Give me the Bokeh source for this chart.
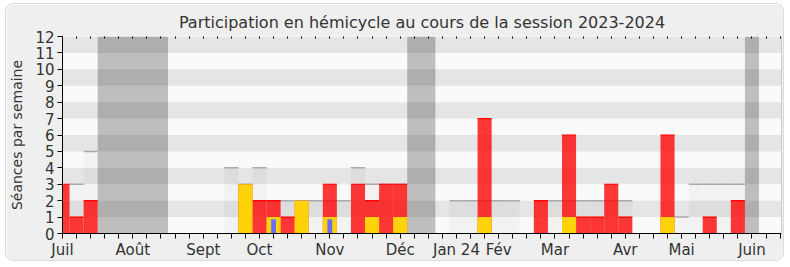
from bokeh.plotting import figure
from bokeh.models import Range1d, FixedTicker, LinearAxis
from bokeh.embed import file_html
from bokeh.resources import INLINE

# ---- data (week index 0 = first week of July 2023) ----
weeks = list(range(51))
presence =      [3,1,2,0,0,0,0,0,0,0, 0,0,0,3,2,2,1,2,0,3, 0,3,2,3,3,0,0,0,0,0, 7,0,0,0,2,0,6,1,1,3, 1,0,0,6,0,0,1,0,2,0, 0]
interventions = [0,0,0,0,0,0,0,0,0,0, 0,0,0,3,0,1,0,2,0,1, 0,0,1,0,1,0,0,0,0,0, 1,0,0,0,0,0,1,0,0,0, 0,0,0,1,0,0,0,0,0,0, 0]
questions =     [0,0,0,0,0,0,0,0,0,0, 0,0,0,0,0,1,0,0,0,1, 0,0,0,0,0,0,0,0,0,0, 0,0,0,0,0,0,0,0,0,0, 0,0,0,0,0,0,0,0,0,0, 0]
median =        [0,3,5,0,0,0,0,0,0,0, 0,0,4,3,4,2,2,2,2,2, 2,4,3,3,3,0,0,0,2,2, 2,2,2,0,0,2,2,2,2,2, 2,0,0,0,1,3,3,3,3,0, 0]
vacation_starts = [3, 25, 49]
vacation_ends = [7, 26, 49]
month_ticks = [0, 5, 10, 14, 19, 24, 28, 31, 35, 40, 44, 49]
month_labels = ["Juil", "Août", "Sept", "Oct", "Nov", "Déc", "Jan 24", "Fév", "Mar", "Avr", "Mai", "Juin"]
title = "Participation en hémicycle au cours de la session 2023-2024"
ylabel = "Séances par semaine"

FONT = "DejaVu Sans"
TXT = "#333333"

p = figure(width=779, height=258, output_backend="svg", toolbar_location=None,
           x_range=Range1d(0, 51.1), y_range=Range1d(0, 12),
           min_border_left=55, min_border_right=4, min_border_top=32, min_border_bottom=29,
           title=title,
           styles={"margin": "3px 5px", "border": "1px solid #dcdcdc",
                   "border-radius": "8px", "overflow": "hidden"})
p.background_fill_color = "#fafafa"
p.border_fill_color = "#efefef"
p.outline_line_color = None
p.grid.visible = False

p.title.align = "center"
p.title.text_font = FONT
p.title.text_font_size = "16px"
p.title.text_font_style = "normal"
p.title.text_color = TXT
p.title.offset = 8

# horizontal background bands
band_b = [i for i in range(12) if i % 2 == 1]
p.quad(left=-1, right=53, bottom=band_b, top=[b + 1 for b in band_b],
       fill_color="#e5e5e5", line_color=None)

# vacations
p.quad(left=[s - 0.5 for s in vacation_starts], right=[e + 0.5 for e in vacation_ends],
       bottom=0, top=12, fill_color="black", fill_alpha=0.24, line_color=None)

# median boxes
mi = [i for i, v in enumerate(median) if v > 0]
p.quad(left=[weeks[i] - 0.5 for i in mi], right=[weeks[i] + 0.5 for i in mi], bottom=0,
       top=[median[i] for i in mi], fill_color="black", fill_alpha=0.03, line_color=None)
p.segment(x0=[weeks[i] - 0.5 for i in mi], x1=[weeks[i] + 0.5 for i in mi],
          y0=[median[i] for i in mi], y1=[median[i] for i in mi],
          line_color="#aaaaaa", line_width=1.5)

# presence
pi = [i for i, v in enumerate(presence) if v > 0]
p.quad(left=[weeks[i] - 0.5 for i in pi], right=[weeks[i] + 0.5 for i in pi], bottom=0,
       top=[presence[i] for i in pi], fill_color="#ff0000", fill_alpha=0.78, line_color=None)
pe = [i for i in pi if presence[i] > interventions[i]]
p.segment(x0=[weeks[i] - 0.5 for i in pe], x1=[weeks[i] + 0.5 for i in pe],
          y0=[presence[i] for i in pe], y1=[presence[i] for i in pe],
          line_color="#ff0000", line_width=1.2)
# interventions
ii = [i for i, v in enumerate(interventions) if v > 0]
p.quad(left=[weeks[i] - 0.5 for i in ii], right=[weeks[i] + 0.5 for i in ii], bottom=0,
       top=[interventions[i] for i in ii], fill_color="#ffd20a", line_color=None)
# questions
qi = [i for i, v in enumerate(questions) if v > 0]
p.quad(left=[weeks[i] - 0.17 for i in qi], right=[weeks[i] + 0.17 for i in qi], bottom=0,
       top=[questions[i] * 0.87 for i in qi], fill_color="#6b6bff", line_color=None)

# axes
xa = p.xaxis[0]
xa.ticker = FixedTicker(ticks=list(range(0, 52)), minor_ticks=[])
xa.major_label_overrides = {i: "" for i in range(52)} | {t: l for t, l in zip(month_ticks, month_labels)}
ya = p.yaxis[0]
ya.ticker = FixedTicker(ticks=list(range(0, 13)), minor_ticks=[])
ya.axis_label = ylabel
for ax in (xa, ya):
    ax.axis_line_color = "black"
    ax.major_tick_line_color = "black"
    ax.major_tick_out = 5
    ax.major_tick_in = 0
    ax.minor_tick_line_color = None
    ax.major_label_text_font = FONT
    ax.major_label_text_font_size = "15px"
    ax.major_label_text_color = TXT
ya.axis_label_text_font = FONT
ya.axis_label_text_font_size = "14px"
ya.axis_label_text_font_style = "normal"
ya.axis_label_text_color = TXT
ya.axis_label_standoff = 7
ya.major_label_standoff = 3
xa.major_label_standoff = 2

top = LinearAxis(ticker=FixedTicker(ticks=list(range(0, 52)), minor_ticks=[]),
                 axis_line_color=None, major_tick_in=2, major_tick_out=0,
                 major_tick_line_color="black", major_label_text_font_size="0px",
                 minor_tick_line_color=None)
p.add_layout(top, "above")
right = LinearAxis(ticker=FixedTicker(ticks=[], minor_ticks=[]), axis_line_color="#cccccc",
                   major_label_text_font_size="0px", major_tick_line_color=None,
                   minor_tick_line_color=None)
p.add_layout(right, "right")

open("out.html", "w").write(file_html(p, INLINE))
